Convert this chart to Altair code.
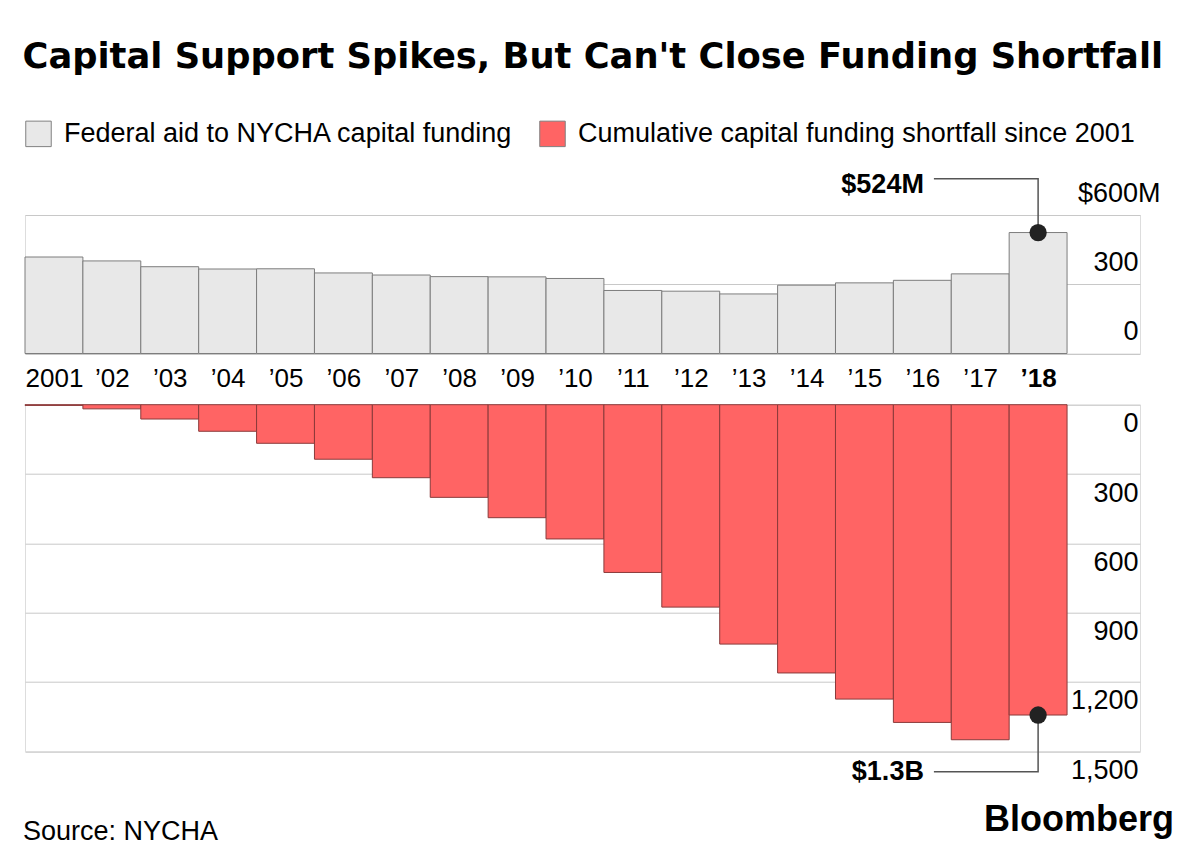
import json
import altair as alt
import pandas as pd

# ---------------- data ----------------
years = list(range(2001, 2019))
year_labels = ["2001", "’02", "’03", "’04", "’05", "’06", "’07", "’08", "’09",
               "’10", "’11", "’12", "’13", "’14", "’15", "’16", "’17", "’18"]
federal_aid = [418, 401, 376, 366, 367, 349, 340, 333, 332, 325,
               273, 270, 258, 296, 306, 317, 345, 524]
shortfall = [3, 18, 62, 115, 167, 236, 316, 401, 489, 581,
             726, 876, 1036, 1161, 1274, 1375, 1450, 1343]
series_names = ["Federal aid to NYCHA capital funding",
                "Cumulative capital funding shortfall since 2001"]
series_colors = ["#e8e8e8", "#ff6464"]
top_ticks = [0, 300, 600]
bottom_ticks = [0, 300, 600, 900, 1200, 1500]

note_labels = ["$524M", "$1.3B"]
note_values = [524, 1343]
note_year = 2018
note_elbow = [757, 1588]
note_end_year = 2016.7

title_text = "Capital Support Spikes, But Can't Close Funding Shortfall"
source_text = "Source: NYCHA"
brand_text = "Bloomberg"

FONT = "Liberation Sans"
TITLE_FONT = "DejaVu Sans"

# ---------------- tables ----------------
top_df = pd.DataFrame({"year": years, "value": federal_aid, "series": series_names[0]})
top_df["year_end"] = top_df["year"] + 1
bot_df = pd.DataFrame({"year": years, "value": shortfall, "series": series_names[1]})
bot_df["year_end"] = bot_df["year"] + 1


def note_frames(i):
    cx = note_year + 0.5
    dot = pd.DataFrame({"x": [cx], "y": [note_values[i]]})
    line = pd.DataFrame({"x": [cx, cx, note_end_year],
                         "y": [note_values[i], note_elbow[i], note_elbow[i]],
                         "o": [0, 1, 2]})
    txt = pd.DataFrame({"x": [note_end_year], "y": [note_elbow[i]], "t": [note_labels[i]]})
    return dot, line, txt


xscale = alt.Scale(domain=[2001, 2020.26], nice=False, zero=False)
label_array = json.dumps(year_labels, ensure_ascii=False)

color = alt.Color(
    "series:N",
    scale=alt.Scale(domain=series_names, range=series_colors),
    legend=alt.Legend(
        orient="none", legendX=0, legendY=-95, direction="horizontal", title=None,
        symbolType="square", symbolSize=650, symbolStrokeColor="#808080",
        symbolStrokeWidth=1, symbolOpacity=1, labelFont=FONT, labelFontSize=27,
        labelColor="#000", labelOffset=12, columnPadding=24, labelLimit=800,
    ),
)

x_axis = alt.Axis(
    values=[y + 0.5 for y in years],
    labelExpr=f"{label_array}[round(datum.value - 2001.5)]",
    domain=False, ticks=False, grid=False, title=None,
    labelFontSize=26, labelFont=FONT, labelColor="#000",
    labelPadding=12, labelBaseline="top", labelFlush=False, labelOverlap=False,
    labelFontWeight={"condition": {"test": "datum.value > 2018", "value": "bold"}, "value": "normal"},
)

top_y_axis = alt.Axis(
    orient="right", values=top_ticks, grid=True, gridColor="#c8c8c8", gridWidth=1,
    domain=False, ticks=False, title=None, labelAlign="right",
    labelPadding={"condition": {"test": "datum.value == 600", "value": 20}, "value": -2},
    labelBaseline="middle", labelOffset=-22, labelFontSize=27, labelFont=FONT,
    labelColor="#000",
    labelExpr="datum.value == 600 ? '$600M' : datum.label",
)

bot_y_axis = alt.Axis(
    orient="right", values=bottom_ticks, grid=True, gridColor="#c8c8c8", gridWidth=1,
    domain=False, ticks=False, title=None, labelAlign="right", labelPadding=-2,
    labelBaseline="middle", labelOffset=19, labelFontSize=27, labelFont=FONT,
    labelColor="#000", format=",d",
)

# ---------------- top panel ----------------
top_bars = alt.Chart(top_df).mark_rect(stroke="#7d7d7d", strokeWidth=1, opacity=1).encode(
    x=alt.X("year:Q", scale=xscale, axis=x_axis),
    x2="year_end:Q",
    y=alt.Y("value:Q", scale=alt.Scale(domain=[0, 600], nice=False), axis=top_y_axis),
    y2=alt.datum(0),
    color=color,
)
dot_t, line_t, txt_t = note_frames(0)
top_line = alt.Chart(line_t).mark_line(color="#555", strokeWidth=1.5).encode(
    x="x:Q", y="y:Q", order="o:Q")
top_dot = alt.Chart(dot_t).mark_point(filled=True, size=300, color="#222", opacity=1).encode(
    x="x:Q", y="y:Q")
top_txt = alt.Chart(txt_t).mark_text(align="right", baseline="middle", dx=-10, dy=6,
                                     font=FONT, fontSize=27, fontWeight="bold",
                                     color="#000").encode(x="x:Q", y="y:Q", text="t:N")
top = alt.layer(top_bars, top_line, top_dot, top_txt).properties(width=1115, height=138.5)

# ---------------- bottom panel ----------------
bot_bars = alt.Chart(bot_df).mark_rect(stroke="#8a3a3a", strokeWidth=1, opacity=1).encode(
    x=alt.X("year:Q", scale=xscale, axis=None),
    x2="year_end:Q",
    y=alt.Y("value:Q", scale=alt.Scale(domain=[0, 1500], nice=False, reverse=True),
            axis=bot_y_axis),
    y2=alt.datum(0),
    color=color,
)
dot_b, line_b, txt_b = note_frames(1)
bot_line = alt.Chart(line_b).mark_line(color="#555", strokeWidth=1.5).encode(
    x="x:Q", y="y:Q", order="o:Q")
bot_dot = alt.Chart(dot_b).mark_point(filled=True, size=300, color="#222", opacity=1).encode(
    x="x:Q", y="y:Q")
bot_txt = alt.Chart(txt_b).mark_text(align="right", baseline="middle", dx=-10, dy=0,
                                     font=FONT, fontSize=27, fontWeight="bold",
                                     color="#000").encode(x="x:Q", y="y:Q", text="t:N")
source = alt.Chart(pd.DataFrame({"t": [source_text]})).mark_text(
    align="left", baseline="middle", font=FONT, fontSize=27, color="#000").encode(
    x=alt.value(-2), y=alt.value(427), text="t:N")
brand = alt.Chart(pd.DataFrame({"t": [brand_text]})).mark_text(
    align="right", baseline="middle", font=FONT, fontSize=36, fontWeight="bold",
    color="#000").encode(x=alt.value(1149), y=alt.value(415), text="t:N")
bottom = alt.layer(bot_bars, bot_line, bot_dot, bot_txt, source, brand).properties(
    width=1115, height=346.6)

chart = alt.vconcat(top, bottom, spacing=50.7, bounds="flush").properties(
    title=alt.TitleParams(text=title_text, font=TITLE_FONT, fontSize=35.3, fontWeight="bold",
                          anchor="start", color="#000", offset=45),
    padding={"left": 14, "top": 31, "right": 10, "bottom": 10},
).configure_view(stroke=None).configure(background="white")

chart.save("out.html", embed_options={"renderer": "svg", "actions": False})
